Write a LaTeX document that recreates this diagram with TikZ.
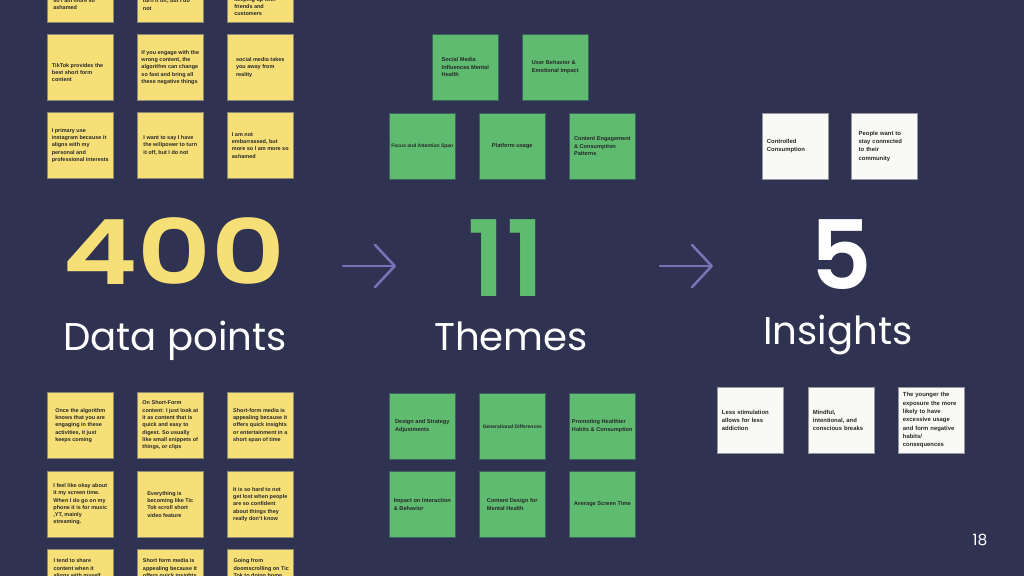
\documentclass[tikz,border=0pt]{standalone}
\usepackage{fontspec}
\setmainfont{Liberation Sans}
\newfontfamily\displayfont{Poppins}
\newfontfamily\numberfont{Poppins SemiBold}
\usetikzlibrary{arrows.meta}

\definecolor{slide}{RGB}{47,50,81}
\definecolor{noteyellow}{RGB}{247,223,120}
\definecolor{noteyellowedge}{RGB}{140,136,120}
\definecolor{notegreen}{RGB}{94,187,112}
\definecolor{notegreenedge}{RGB}{60,100,95}
\definecolor{notewhite}{RGB}{249,249,246}
\definecolor{notewhiteedge}{RGB}{150,150,160}
\definecolor{inktext}{RGB}{40,40,40}
\definecolor{arrowpurple}{RGB}{122,114,184}

\newcommand\notefont{\fontsize{3.9}{5.2}\selectfont\bfseries}
\newcommand\greennotefont{\fontsize{4.0}{5.4}\selectfont\bfseries}
\newcommand\smallnotefont{\fontsize{3.55}{4.8}\selectfont\bfseries}
\newcommand\whitenotefont{\fontsize{4.2}{5.9}\selectfont\bfseries}

\tikzset{
  note/.style={minimum width=1.65cm, minimum height=1.65cm, inner sep=0pt,
    anchor=north west, align=left, text=inktext, font=\notefont, line width=0.4pt},
  yellownote/.style={note, fill=noteyellow, draw=noteyellowedge},
  greennote/.style={note, fill=notegreen, draw=notegreenedge, font=\greennotefont},
  whitenote/.style={note, fill=notewhite, draw=notewhiteedge, font=\whitenotefont,
    text width=1.42cm},
  cutlabel/.style={anchor=north west, inner sep=0pt, align=left, text=inktext, font=\notefont},
  bignum/.style={anchor=base, inner sep=0pt, font=\numberfont\fontsize{#1}{#1}\selectfont},
  bigword/.style={anchor=base, inner sep=0pt, text=white, font=\displayfont\fontsize{27.5}{30}\selectfont},
  flowarrow/.style={draw=arrowpurple, line width=1.8pt, line cap=round,
    -{Straight Barb[length=14pt, width=30pt, line cap=round, line join=round]}}
}

\begin{document}
\begin{tikzpicture}[x=0.025cm, y=-0.025cm]
  \useasboundingbox (0,0) rectangle (1024,576);
  \clip (0,0) rectangle (1024,576);
  \fill[slide] (0,0) rectangle (1024,576);

  % Data points (upper notes)
  \node[yellownote] (y1) at (47,-44) {};
  \node[yellownote] (y2) at (137,-44) {};
  \node[yellownote] (y3) at (227,-44) {};
  \node[cutlabel] (y1t) at (53,-1.5) {so I am more so\\ashamed};
  \node[cutlabel] (y2t) at (142.7,-1.5) {turn it off, but I do\\not};
  \node[cutlabel] (y3t) at (234,-3) {keeping up with\\friends and\\customers};

  \node[yellownote] (y4) at (47,34) {};
  \node[cutlabel] (y4t) at (51.7,63) {TikTok provides the\\best short form\\content};
  \node[yellownote] (y5) at (137,34) {If you engage with the\\wrong content, the\\algorithm can change\\so fast and bring all\\these negative things};
  \node[yellownote] (y6) at (227,34) {social media takes\\you away from\\reality};

  \node[yellownote] (y7) at (47,112) {I primary use\\instagram because it\\aligns with my\\personal and\\professional interests};
  \node[yellownote] (y8) at (137,112) {I want to say I have\\the willpower to turn\\it off, but I do not};
  \node[yellownote] (y9) at (227,112) {I am not\\embarrassed, but\\more so I am more so\\ashamed};

  % Data points (lower notes)
  \node[yellownote] (y10) at (47,392) {Once the algorithm\\knows that you are\\engaging in these\\activities, it just\\keeps coming};
  \node[yellownote] (y11) at (137,392) {On Short-Form\\content: I just look at\\it as content that is\\quick and easy to\\digest. So usually\\like small snippets of\\things, or clips};
  \node[yellownote] (y12) at (227,392) {Short-form media is\\appealing because it\\offers quick insights\\or entertainment in a\\short span of time};

  \node[yellownote] (y13) at (47,471) {I feel like okay about\\it my screen time.\\When I do go on my\\phone it is for music\\,YT, mainly\\streaming.};
  \node[yellownote] (y14) at (137,471) {Everything is\\becoming like Tic\\Tok scroll short\\video feature};
  \node[yellownote] (y15) at (227,471) {It is so hard to not\\get lost when people\\are so confident\\about things they\\really don't know};

  \node[yellownote] (y16) at (47,549) {};
  \node[yellownote] (y17) at (137,549) {};
  \node[yellownote] (y18) at (227,549) {};
  \node[cutlabel] (y16t) at (53.3,558.7) {I tend to share\\content when it\\aligns with myself};
  \node[cutlabel] (y17t) at (142.7,558.7) {Short form media is\\appealing because it\\offers quick insights};
  \node[cutlabel] (y18t) at (233.3,558.7) {Going from\\doomscrolling on Tic\\Tok to doing home};

  % Themes (upper notes)
  \node[greennote] (g1) at (432,34) {Social Media\\Influences Mental\\Health};
  \node[greennote] (g2) at (522,34) {User Behavior \&\\Emotional Impact};
  \node[greennote, font=\smallnotefont] (g3) at (389,113) {Focus and Attention Span};
  \node[greennote] (g4) at (479,113) {Platform usage};
  \node[greennote] (g5) at (569,113) {Content Engagement\\\& Consumption\\Patterns};

  % Themes (lower notes)
  \node[greennote] (g6) at (389,393) {Design and Strategy\\Adjustments};
  \node[greennote, font=\smallnotefont] (g7) at (479,393) {Generational Differences};
  \node[greennote] (g8) at (569,393) {Promoting Healthier\\Habits \& Consumption};
  \node[greennote] (g9) at (389,471) {Impact on Interaction\\\& Behavior};
  \node[greennote] (g10) at (479,471) {Content Design for\\Mental Health};
  \node[greennote] (g11) at (569,471) {Average Screen Time};

  % Insights
  \node[whitenote] (w1) at (762,113) {Controlled\\Consumption};
  \node[whitenote] (w2) at (851,113) {\hspace*{2pt}People want to\\\hspace*{2pt}stay connected\\\hspace*{2pt}to their\\\hspace*{2pt}community};
  \node[whitenote] (w3) at (717,387) {Less stimulation\\allows for less\\addiction};
  \node[whitenote] (w4) at (808,387) {Mindful,\\intentional, and\\conscious breaks};
  \node[whitenote] (w5) at (898,387) {The younger the\\exposure the more\\likely to have\\excessive usage\\and form negative\\habits/\\consequences};

  % Counts and captions
  \node[bignum=64, text=noteyellow] (n400) at (174,285) {\scalebox{1.27}[1]{400}};
  \node[bigword] (datapts) at (175,351) {Data points};
  \node[bignum=75, text=notegreen] (n11) at (506,297) {11};
  \node[bigword] (themes) at (511,350) {Themes};
  \node[bignum=68, text=white] (n5) at (841,290) {5};
  \node[bigword] (insights) at (838,344) {Insights};

  % Arrows between the columns
  \coordinate (a1s) at (343,266);
  \coordinate (a1e) at (396,266);
  \coordinate (a2s) at (660,266);
  \coordinate (a2e) at (713,266);
  \draw[flowarrow] (a1s) -- (a1e);
  \draw[flowarrow] (a2s) -- (a2e);

  % Page number
  \node[text=white, font=\displayfont\fontsize{11}{13}\selectfont] (page) at (980,540) {18};
\end{tikzpicture}
\end{document}
